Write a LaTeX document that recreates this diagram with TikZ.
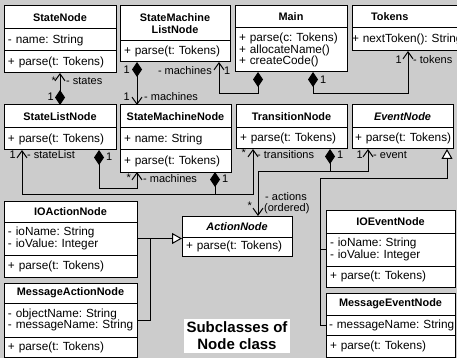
\documentclass[tikz,border=0pt]{standalone}
\usepackage{fontspec}
\setmainfont{Liberation Sans}
\usetikzlibrary{arrows.meta,calc}

\definecolor{paper}{gray}{0.8}
\newcommand{\bodyfont}{\fontsize{11.8}{11.8}\selectfont}
\newcommand{\headfont}{\bfseries\fontsize{10.9}{12}\selectfont}
\newcommand{\rolefont}{\fontsize{11}{11}\selectfont}
\frenchspacing

\tikzset{
  box/.style={draw=black, fill=white, line width=1pt, anchor=north west,
    inner xsep=4pt, inner ysep=0pt, outer sep=0pt, align=left, font=\bodyfont},
  head/.style={box, align=center, font=\headfont},
  ahead/.style={box, align=center, font=\headfont\itshape},
  conn/.style={line width=1pt},
  own/.style={conn, {Diamond[length=15pt,width=10pt]}-{Straight Barb[length=7pt,width=10pt]}},
  ownonly/.style={conn, {Diamond[length=15pt,width=10pt]}-},
  nav/.style={conn, -{Straight Barb[length=7pt,width=10pt]}},
  gen/.style={conn, {Triangle[length=10pt,width=11pt,fill=white]}-},
  role/.style={font=\rolefont, inner sep=1pt},
  note/.style={fill=white, font=\bfseries\fontsize{15}{17}\selectfont, align=center, inner sep=3pt}
}

\begin{document}
\begin{tikzpicture}[x=1pt,y=-1pt]
\useasboundingbox (0,0) rectangle (457,358);
\clip (0,0) rectangle (457,358);
\fill[paper] (0,0) rectangle (457,358);

% ---- top row ----
\node[head, minimum width=112pt, text width=104pt, minimum height=23pt] (sn) at (4,6) {StateNode};
\node[box, minimum width=112pt, text width=104pt, minimum height=22pt] (sn-a) at (4,29) {\mbox{- name: String}};
\node[box, minimum width=112pt, text width=104pt, minimum height=22pt] (sn-o) at (4,51) {\mbox{+ parse(t: Tokens)}};

\node[head, minimum width=110pt, text width=102pt, minimum height=35pt] (sml) at (120,6) {StateMachine\\ListNode};
\node[box, minimum width=110pt, text width=102pt, minimum height=21pt] (sml-o) at (120,41) {\mbox{+ parse(t: Tokens)}};

\node[head, minimum width=112pt, text width=104pt, minimum height=22pt] (mn) at (235,6) {Main};
\node[box, minimum width=112pt, text width=104pt, minimum height=44pt] (mn-o) at (235,28)
  {\mbox{+ parse(c: Tokens)}\\\mbox{+ allocateName()}\\\mbox{+ createCode()}};

\node[head, align=left, minimum width=110pt, text width=102pt, minimum height=22pt] (tk) at (352,6) {\hspace*{15pt}Tokens};
\node[box, minimum width=110pt, text width=102pt, minimum height=23pt] (tk-o) at (352,28) {\hspace*{-4pt}\mbox{+ nextToken(): String}};

% ---- second row ----
\node[head, minimum width=112pt, text width=104pt, minimum height=23pt] (sl) at (4,105) {StateListNode};
\node[box, minimum width=112pt, text width=104pt, minimum height=22pt] (sl-o) at (4,128) {\mbox{+ parse(t: Tokens)}};

\node[head, minimum width=111pt, text width=103pt, minimum height=23pt] (smn) at (120,105) {StateMachineNode};
\node[box, minimum width=111pt, text width=103pt, minimum height=22pt] (smn-a) at (120,128) {\mbox{+ name: String}};
\node[box, minimum width=111pt, text width=103pt, minimum height=22pt] (smn-o) at (120,150) {\mbox{+ parse(t: Tokens)}};

\node[head, minimum width=111pt, text width=103pt, minimum height=23pt] (tn) at (236,105) {TransitionNode};
\node[box, minimum width=111pt, text width=103pt, minimum height=21pt] (tn-o) at (236,128) {\mbox{+ parse(t: Tokens)}};

\node[ahead, minimum width=101pt, text width=93pt, minimum height=23pt] (en) at (352,105) {EventNode};
\node[box, minimum width=101pt, text width=93pt, minimum height=21pt] (en-o) at (352,128) {\hspace*{-1pt}\mbox{+ parse(t: Tokens)}};

% ---- action subclasses ----
\node[head, minimum width=133pt, text width=125pt, minimum height=21pt] (ia) at (4,201) {IOActionNode};
\node[box, minimum width=133pt, text width=125pt, minimum height=33pt] (ia-a) at (4,222) {\mbox{- ioName: String}\\\mbox{- ioValue: Integer}};
\node[box, minimum width=133pt, text width=125pt, minimum height=22pt] (ia-o) at (4,255) {\mbox{+ parse(t: Tokens)}};

\node[head, minimum width=133pt, text width=125pt, minimum height=20pt] (ma) at (4,283) {MessageActionNode};
\node[box, minimum width=133pt, text width=125pt, minimum height=34pt] (ma-a) at (4,303) {\mbox{- objectName: String}\\\mbox{- messageName: String}};
\node[box, minimum width=133pt, text width=125pt, minimum height=20pt] (ma-o) at (4,337) {\mbox{+ parse(t: Tokens)}};

\node[ahead, minimum width=110pt, text width=102pt, minimum height=21pt] (an) at (182,216) {ActionNode};
\node[box, minimum width=110pt, text width=102pt, minimum height=19pt] (an-o) at (182,237) {\mbox{+ parse(t: Tokens)}};

% ---- event subclasses ----
\node[head, minimum width=129pt, text width=121pt, minimum height=23pt] (ie) at (326,210) {IOEventNode};
\node[box, minimum width=129pt, text width=121pt, minimum height=33pt] (ie-a) at (326,233) {\mbox{- ioName: String}\\\mbox{- ioValue: Integer}};
\node[box, minimum width=129pt, text width=121pt, minimum height=21pt] (ie-o) at (326,266) {\mbox{+ parse(t: Tokens)}};

\node[head, minimum width=129pt, text width=121pt, minimum height=22pt] (me) at (326,293) {MessageEventNode};
\node[box, minimum width=129pt, text width=121pt, minimum height=20pt] (me-a) at (326,315) {\hspace*{-1pt}\mbox{- messageName: String}};
\node[box, minimum width=129pt, text width=121pt, minimum height=22pt] (me-o) at (326,335) {\mbox{+ parse(t: Tokens)}};

\node[note] (cap) at (237,336) {Subclasses of\\Node class};

% ---- associations ----
% StateListNode owns states
\draw[own] (sl.north) -- (sn-o.south);
\node[role, anchor=east] (r1) at (57,81) {*};
\node[role, anchor=west] (r2) at (65,81) {- states};
\node[role, anchor=east] (r3) at (55,97) {1};

% StateMachineListNode owns machines
\draw[own] ($(sml-o.south west)+(17,0)$) -- ($(smn.north west)+(17,0)$);
\node[role, anchor=east] (r4) at (131,70) {1};
\node[role, anchor=east] (r5) at (131,97) {1};
\node[role, anchor=west] (r6) at (143,97) {- machines};

% Main owns the machine list
\draw[own] ($(mn-o.south west)+(23,0)$) -- ++(0,22) -| ($(sml-o.south west)+(99,0)$);
\node[role, anchor=east] (r7) at (213,71) {- machines};
\node[role, anchor=west] (r8) at (223,71) {1};

% Main owns tokens
\draw[own] ($(mn-o.south west)+(78,0)$) -- ++(0,22) -| ($(tk-o.south west)+(56,0)$);
\node[role, anchor=west] (r9) at (319,80) {1};
\node[role, anchor=east] (r10) at (403,60) {1};
\node[role, anchor=west] (r11) at (412,60) {- tokens};

% StateMachineNode owns stateList and transitions
\coordinate (sj) at ($(smn-o.south west)+(95,22)$);
\draw[ownonly] ($(smn-o.south west)+(95,0)$) -- (sj);
\draw[nav] (sj) -| ($(sl-o.south west)+(18,0)$);
\draw[nav] (sj) -| ($(tn-o.south west)+(17,0)$);
\node[role, anchor=west] (r12) at (221,179) {1};
\node[role, anchor=east] (r13) at (17,155) {1};
\node[role, anchor=west] (r14) at (26,155) {- stateList};
\node[role, anchor=east] (r15) at (247,153) {*};
\node[role, anchor=west] (r16) at (256,155) {- transitions};

% StateListNode owns machines
\draw[own] ($(sl-o.south west)+(95,0)$) -- ++(0,38) -| ($(smn-o.south west)+(17,0)$);
\node[role, anchor=west] (r17) at (105,157) {1};
\node[role, anchor=east] (r18) at (132,178) {*};
\node[role, anchor=west] (r19) at (142,179) {- machines};

% TransitionNode owns actions and event
\coordinate (tj) at ($(tn-o.south west)+(94,22)$);
\draw[ownonly] ($(tn-o.south west)+(94,0)$) -- (tj);
\draw[nav] (tj) -| ($(an.north west)+(76,0)$);
\draw[nav] (tj) -| ($(en-o.south west)+(16,0)$);
\node[role, anchor=west] (r20) at (336,155) {1};
\node[role, anchor=east] (r21) at (364,155) {1};
\node[role, anchor=west] (r22) at (372,155) {- event};
\node[role, anchor=east] (r23) at (253,206) {*};
\node[role, anchor=west] (r24) at (264,197) {- actions};
\node[role, anchor=west] (r25) at (263,209) {(ordered)};

% ---- generalizations ----
\coordinate (eb) at ($(ie-a.west)+(-6,0)$);
\draw[gen] ($(en-o.south west)+(95,0)$) -- ++(0,29) -| (me-a.west -| eb) -- (me-a.west);
\draw[conn] (ie-a.west) -- (eb);

\coordinate (ab) at ($(ia-a.east)+(13,0)$);
\draw[gen] (an-o.north west |- ia-a.east) -- (ia-a.east);
\draw[conn] (ab) |- (ma-a.east);
\end{tikzpicture}
\end{document}
